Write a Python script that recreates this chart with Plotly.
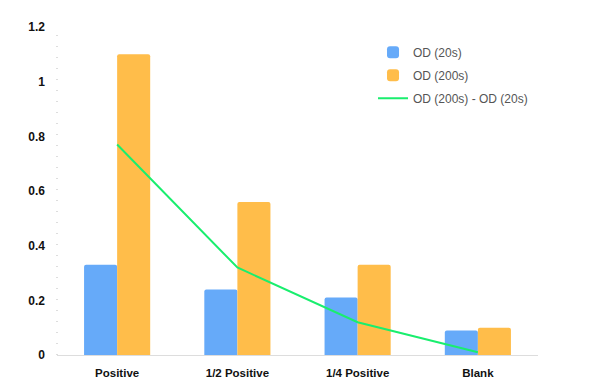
import plotly.graph_objects as go

categories = ["Positive", "1/2 Positive", "1/4 Positive", "Blank"]
od_20s = [0.33, 0.24, 0.21, 0.09]
od_200s = [1.10, 0.56, 0.33, 0.10]
od_diff = [0.77, 0.32, 0.12, 0.01]
y_ticks = [0, 0.2, 0.4, 0.6, 0.8, 1, 1.2]

fig = go.Figure()
fig.add_trace(go.Bar(x=categories, y=od_20s, name="OD (20s)", legendgroup="a",
                     marker=dict(color="#66aaf9", cornerradius=2, line=dict(width=0))))
fig.add_trace(go.Bar(x=categories, y=od_200s, name="OD (200s)", legendgroup="b",
                     marker=dict(color="#ffbd4a", cornerradius=2, line=dict(width=0))))
fig.add_trace(go.Scatter(x=categories, y=od_diff, name="OD (200s) - OD (20s)", legendgroup="c",
                         mode="lines", line=dict(color="#19ee6e", width=2)))

fig.update_layout(
    width=592, height=383,
    margin=dict(l=49, r=62, t=18, b=35),
    plot_bgcolor="white", paper_bgcolor="white",
    barmode="group", bargap=0.45, bargroupgap=0,
    showlegend=True,
    legend=dict(x=0.657, y=0.967, xanchor="left", yanchor="top",
                font=dict(family="Liberation Sans", size=12, color="#555555"),
                bgcolor="rgba(0,0,0,0)", itemwidth=30, tracegroupgap=4),
    font=dict(family="Liberation Sans"),
)
fig.update_xaxes(showgrid=False, showline=True, linecolor="#dddddd", linewidth=1,
                 ticks="", zeroline=False, ticklabelstandoff=7,
                 tickfont=dict(family="Liberation Sans", size=11.5, color="#111111", weight="bold"))
fig.update_yaxes(range=[0, 1.2], tickvals=y_ticks, ticktext=[str(v) for v in y_ticks],
                 showgrid=False, zeroline=False, showline=False, ticks="",
                 ticklabelstandoff=11,
                 tickfont=dict(family="Liberation Sans", size=12, color="#111111", weight="bold"))
fig.add_shape(type="line", xref="paper", yref="paper", x0=0, x1=0, y0=0, y1=1,
              line=dict(color="#bbbbbb", width=1, dash="1px,10px"))

fig.write_html("out.html")
